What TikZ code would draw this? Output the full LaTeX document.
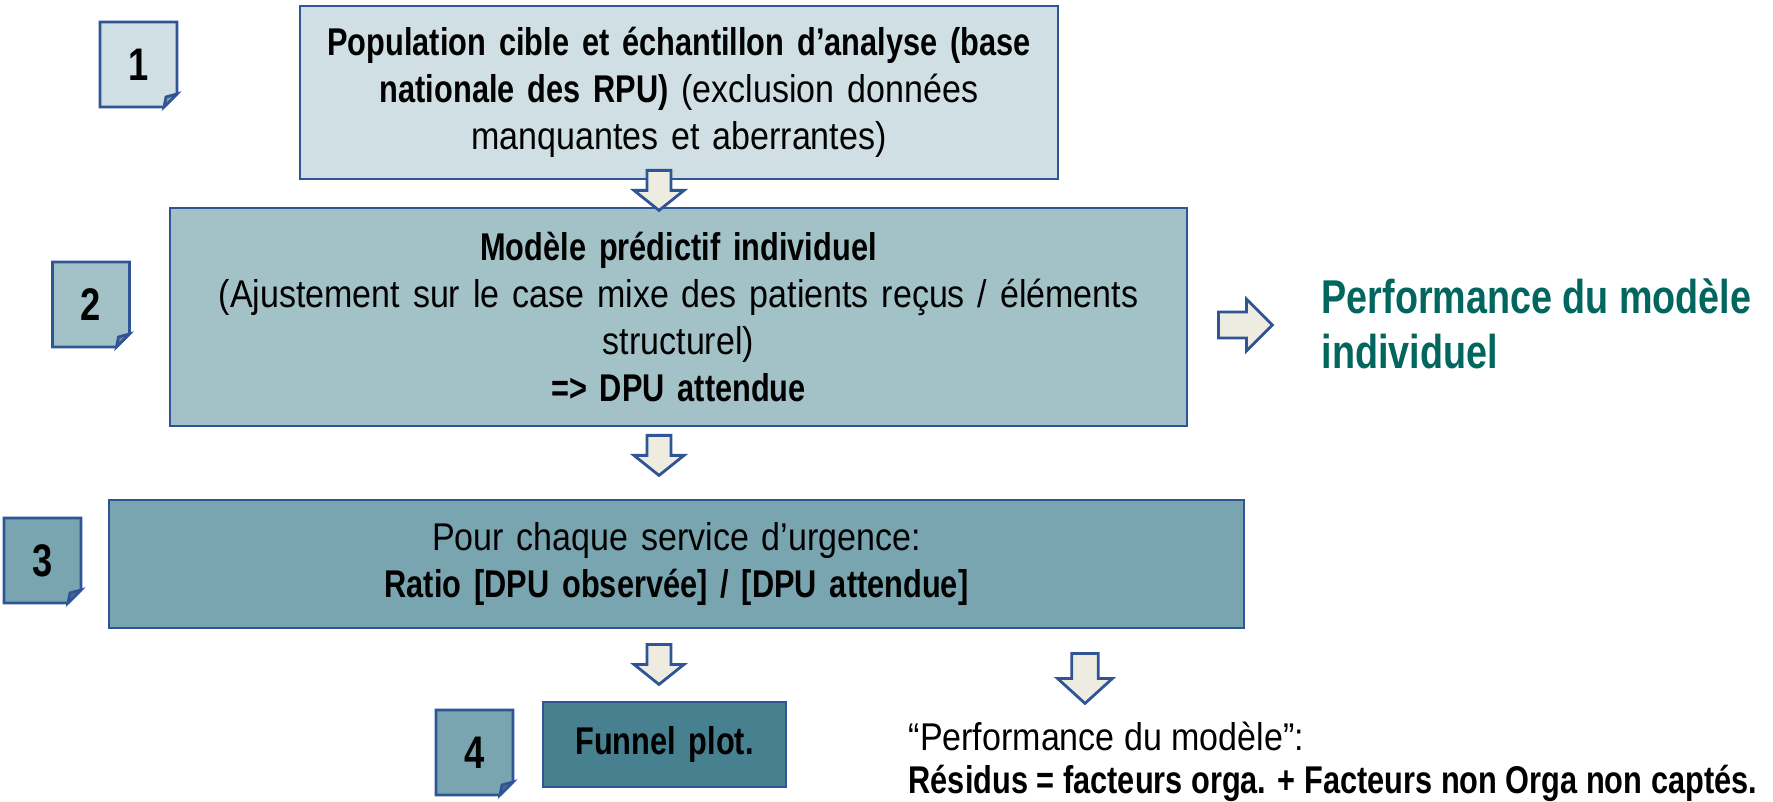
\documentclass[tikz,border=0pt]{standalone}
\usepackage{fontspec}
\setmainfont[FakeStretch=0.88, BoldFeatures={FakeStretch=0.795}]{Liberation Sans}
\definecolor{bleubord}{RGB}{47,85,151}
\definecolor{fondun}{RGB}{208,223,227}
\definecolor{fonddeux}{RGB}{162,194,200}
\definecolor{fondtrois}{RGB}{120,165,176}
\definecolor{fondquatre}{RGB}{71,128,142}
\definecolor{creme}{RGB}{238,236,225}
\definecolor{vertperf}{RGB}{0,102,94}
\usetikzlibrary{calc}

\begin{document}
\begin{tikzpicture}[x=0.1mm, y=-0.1mm,
    boite/.style={draw=bleubord, line width=0.8pt, inner sep=0pt, align=center,
        font=\fontsize{11}{13.3}\selectfont},
    note/.style={inner sep=0pt, font=\fontsize{13}{14}\selectfont\bfseries},
    pliage/.style={draw=bleubord, line width=0.8pt, line join=miter},
    fleche/.style={draw=bleubord, fill=creme, line width=0.8pt, line join=miter},
    flechebas/.pic={\draw[fleche] (-12,0) -- (12,0) -- (12,20) -- (25,20) -- (0,40) -- (-25,20) -- (-12,20) -- cycle;}
]
    \useasboundingbox (0,0) rectangle (1773,802);

    % BOITES
    \node[boite, fill=fondun, minimum width=75.8mm, minimum height=17.3mm, text width=75.8mm] (pop) at (679,92.5)
        {\textbf{Population cible et échantillon d’analyse (base}\\ \textbf{nationale des RPU)} (exclusion données\\ manquantes et aberrantes)};
    \node[boite, fill=fonddeux, minimum width=101.7mm, minimum height=21.8mm, text width=101.7mm] (modele) at (678.5,317)
        {\textbf{Modèle prédictif individuel}\\ (Ajustement sur le case mixe des patients reçus / éléments\\ structurel)\\ \textbf{=> DPU attendue}};
    \node[boite, fill=fondtrois, minimum width=113.5mm, minimum height=12.8mm, text width=113.5mm] (ratio) at (676.5,564)
        {Pour chaque service d’urgence:\\ \textbf{Ratio [DPU observée] / [DPU attendue]}};
    \node[boite, fill=fondquatre, minimum width=24.3mm, minimum height=8.5mm, text width=24.3mm] (funnel) at (664.5,744.5)
        {\textbf{Funnel plot.}};

    % NOTES NUMEROTEES
    \coordinate (c1) at (138.5,64.5);
    \draw[pliage, fill=fondun] ($(c1)+(-38.5,-42.5)$) -- ++(77,0) -- ++(0,72) -- ++(-13,13) -- ++(-64,0) -- cycle;
    \draw[pliage, fill=fondun!70!black] ($(c1)+(25.5,42.5)$) -- ++(13,-13) -- ++(-11,3) -- cycle;
    \node[note] (n1) at (c1) {1};

    \coordinate (c2) at (91,304.5);
    \draw[pliage, fill=fonddeux] ($(c2)+(-38.5,-42.5)$) -- ++(77,0) -- ++(0,72) -- ++(-13,13) -- ++(-64,0) -- cycle;
    \draw[pliage, fill=fonddeux!70!black] ($(c2)+(25.5,42.5)$) -- ++(13,-13) -- ++(-11,3) -- cycle;
    \node[note] (n2) at (c2) {2};

    \coordinate (c3) at (42.5,560.5);
    \draw[pliage, fill=fondtrois] ($(c3)+(-38.5,-42.5)$) -- ++(77,0) -- ++(0,72) -- ++(-13,13) -- ++(-64,0) -- cycle;
    \draw[pliage, fill=fondtrois!70!black] ($(c3)+(25.5,42.5)$) -- ++(13,-13) -- ++(-11,3) -- cycle;
    \node[note] (n3) at (c3) {3};

    \coordinate (c4) at (474.5,752.5);
    \draw[pliage, fill=fondtrois] ($(c4)+(-38.5,-42.5)$) -- ++(77,0) -- ++(0,72) -- ++(-13,13) -- ++(-64,0) -- cycle;
    \draw[pliage, fill=fondtrois!70!black] ($(c4)+(25.5,42.5)$) -- ++(13,-13) -- ++(-11,3) -- cycle;
    \node[note] (n4) at (c4) {4};

    % FLECHES
    \coordinate (axe) at (659,0);
    \pic at ($(axe |- pop.south)+(0,-10)$) {flechebas};
    \pic at ($(axe |- modele.south)+(0,8)$) {flechebas};
    \pic at ($(axe |- ratio.south)+(0,15)$) {flechebas};
    \pic[xscale=1.1, yscale=1.25] at ($(1085,0 |- ratio.south)+(0,24)$) {flechebas};
    \coordinate (fd) at ($(modele.east)+(30,8)$);
    \draw[fleche] ($(fd)+(0,-13)$) -- ++(28,0) -- ++(0,-13) -- ++(26,26) -- ++(-26,26) -- ++(0,-13) -- ++(-28,0) -- cycle;

    % TEXTES
    \node[anchor=west, inner sep=0pt, align=left, text=vertperf, font=\fontsize{13.5}{15.5}\selectfont\bfseries] (perf) at (1321,324)
        {Performance du modèle\\ individuel};
    \node[anchor=west, inner sep=0pt, align=left, font=\fontsize{11}{12.2}\selectfont] (residus) at (908,762)
        {“Performance du modèle”:\\ \textbf{Résidus = facteurs orga. + Facteurs non Orga non captés.}};

\end{tikzpicture}
\end{document}
